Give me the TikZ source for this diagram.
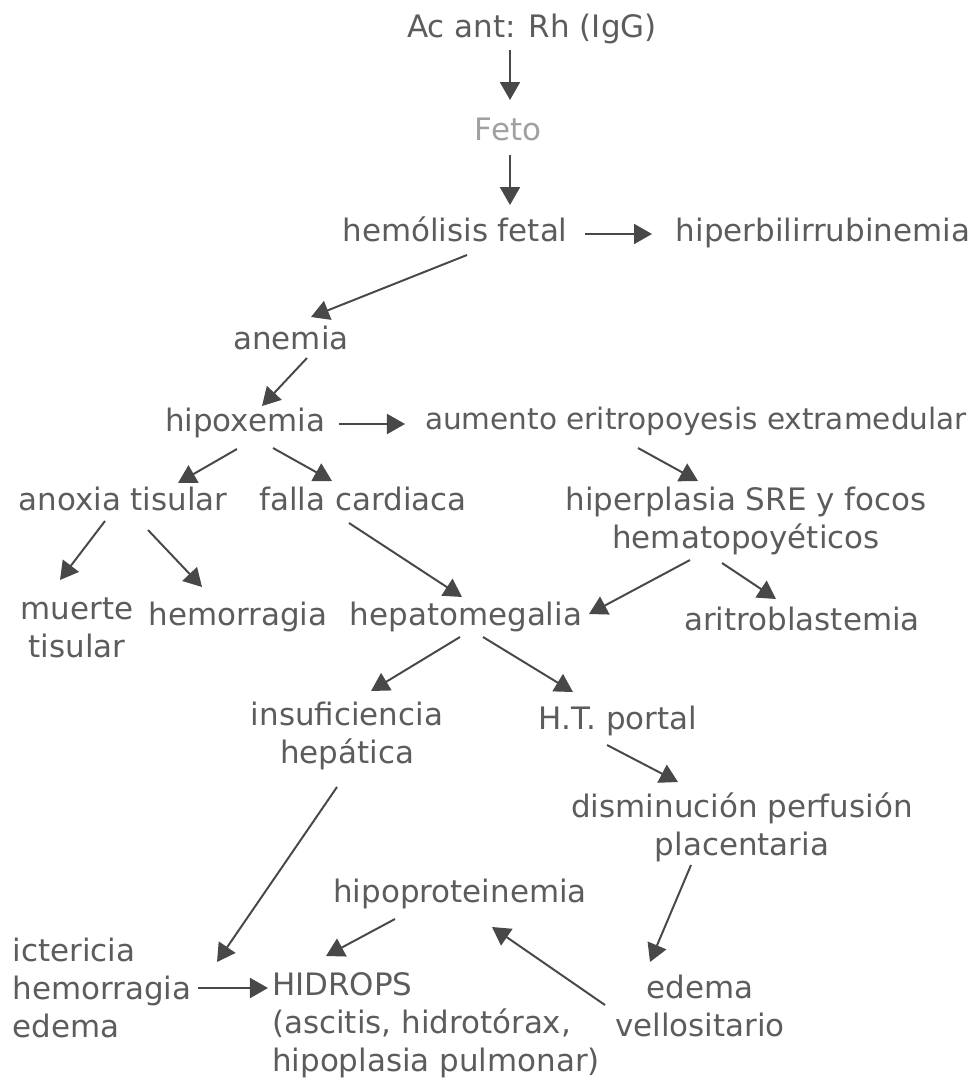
\documentclass[tikz,border=0pt]{standalone}
\usepackage{fontspec}
\setmainfont{DejaVu Sans}
\usetikzlibrary{arrows.meta,calc}
\definecolor{texto}{HTML}{5C5C5C}
\definecolor{tenue}{HTML}{A0A0A0}
\definecolor{flecha}{HTML}{484848}

\begin{document}
\begin{tikzpicture}[x=0.025cm,y=-0.025cm,
  txt/.style={inner sep=0pt,text=texto,font=\fontsize{22}{27}\selectfont},
  una/.style={txt,text height=16pt,text depth=5pt},
  varias/.style={txt,align=center},
  flec/.style={draw=flecha,line width=1.4pt,-{Triangle[length=4.5mm,width=5mm]}}]
  \useasboundingbox (0,0) rectangle (978,1080);

  % nodos
  \node[una] (ac) at (532,30) {Ac ant: Rh (IgG)};
  \node[una,text=tenue] (feto) at (508,133) {Feto};
  \node[una] (hemolisis) at (455,234) {hemólisis fetal};
  \node[una] (hiperbili) at (823,234) {hiperbilirrubinemia};
  \node[una] (anemia) at (291,342) {anemia};
  \node[una] (hipoxemia) at (245,424) {hipoxemia};
  \node[una,font=\fontsize{21}{27}\selectfont] (aumento) at (696,422) {aumento eritropoyesis extramedular};
  \node[una] (anoxia) at (123,503) {anoxia tisular};
  \node[una] (falla) at (363,503) {falla cardiaca};
  \node[varias] (hiperplasia) at (746,521) {hiperplasia SRE y focos\\hematopoyéticos};
  \node[varias] (muerte) at (77,628) {muerte\\tisular};
  \node[una] (hemorragia) at (238,618) {hemorragia};
  \node[una] (hepato) at (466,618) {hepatomegalia};
  \node[una] (aritro) at (802,623) {aritroblastemia};
  \node[varias] (insuf) at (347,736) {insuficiencia\\hepática};
  \node[una] (portal) at (618,722) {H.T. portal};
  \node[varias] (dismin) at (742,827) {disminución perfusión\\placentaria};
  \node[una] (hipoprot) at (460,895) {hipoproteinemia};
  \node[varias,align=left] (icter) at (102,988) {ictericia\\hemorragia\\edema};
  \node[varias,align=left] (hidrops) at (436,1025) {HIDROPS\\(ascitis, hidrotórax,\\hipoplasia pulmonar)};
  \node[varias] (edema) at (700,1006) {edema\\vellositario};

  % flechas
  \draw[flec] ($(ac)+(-22,20)$) -- ($(feto)+(2,-33)$);
  \draw[flec] ($(feto)+(2,22)$) -- ($(hemolisis)+(55,-29)$);
  \draw[flec] ($(hemolisis)+(130,0)$) -- ($(hiperbili)+(-171,0)$);
  \draw[flec] ($(hemolisis)+(12,21)$) -- ($(anemia)+(20,-25)$);
  \draw[flec] ($(anemia)+(16,16)$) -- ($(hipoxemia)+(17,-18)$);
  \draw[flec] ($(hipoxemia)+(94,0)$) -- ($(aumento)+(-291,2)$);
  \draw[flec] ($(hipoxemia)+(-8,25)$) -- ($(anoxia)+(55,-20)$);
  \draw[flec] ($(hipoxemia)+(28,24)$) -- ($(falla)+(-31,-22)$);
  \draw[flec] ($(anoxia)+(-18,18)$) -- ($(muerte)+(-17,-48)$);
  \draw[flec] ($(anoxia)+(25,27)$) -- ($(hemorragia)+(-36,-31)$);
  \draw[flec] ($(falla)+(-14,20)$) -- ($(hepato)+(-4,-21)$);
  \draw[flec] ($(aumento)+(-58,26)$) -- ($(hiperplasia)+(-48,-40)$);
  \draw[flec] ($(hiperplasia)+(-56,39)$) -- ($(hepato)+(123,-4)$);
  \draw[flec] ($(hiperplasia)+(-24,42)$) -- ($(aritro)+(-26,-24)$);
  \draw[flec] ($(hepato)+(-6,19)$) -- ($(insuf)+(24,-45)$);
  \draw[flec] ($(hepato)+(17,19)$) -- ($(portal)+(-45,-30)$);
  \draw[flec] ($(portal)+(-11,23)$) -- ($(dismin)+(-64,-45)$);
  \draw[flec] ($(dismin)+(-51,38)$) -- ($(edema)+(-50,-44)$);
  \draw[flec] ($(edema)+(-95,-1)$) -- ($(hipoprot)+(32,32)$);
  \draw[flec] ($(hipoprot)+(-65,24)$) -- ($(hidrops)+(-110,-69)$);
  \draw[flec] ($(insuf)+(-10,51)$) -- ($(hidrops)+(-219,-63)$);
  \draw[flec] ($(icter)+(96,0)$) -- ($(hidrops)+(-168,-37)$);
\end{tikzpicture}
\end{document}
